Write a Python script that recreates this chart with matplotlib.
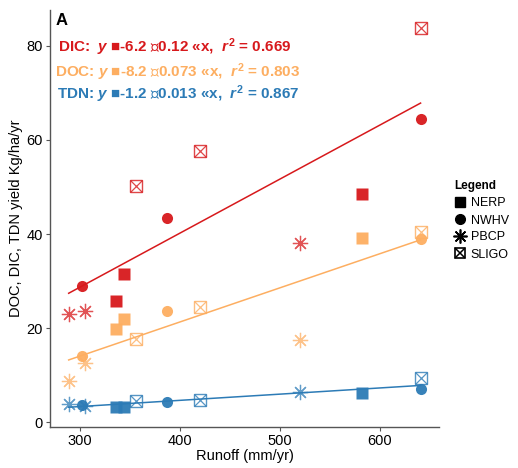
import numpy as np
import matplotlib.pyplot as plt
from matplotlib.lines import Line2D
from matplotlib.legend_handler import HandlerTuple

plt.rcParams['font.family'] = ['Liberation Sans', 'DejaVu Sans']
plt.rcParams['mathtext.fontset'] = 'custom'
plt.rcParams['mathtext.it'] = 'Liberation Sans:italic:bold'
plt.rcParams['mathtext.rm'] = 'Liberation Sans:bold'

# 径流量 (mm/yr)，每个站点三年
sites = ['NERP', 'NWHV', 'PBCP', 'SLIGO']
runoff = {
    'NERP': [336, 344, 582],
    'NWHV': [302, 387, 641],
    'PBCP': [289, 305, 520],
    'SLIGO': [356, 420, 641],
}

# 通量 (Kg/ha/yr)
dic = {
    'NERP': [25.8, 31.5, 48.5],
    'NWHV': [28.9, 43.5, 64.4],
    'PBCP': [23.0, 23.7, 38.1],
    'SLIGO': [50.3, 57.6, 83.7],
}
doc = {
    'NERP': [19.9, 21.9, 39.1],
    'NWHV': [14.2, 23.6, 39.0],
    'PBCP': [8.8, 12.6, 17.5],
    'SLIGO': [17.7, 24.5, 40.4],
}
tdn = {
    'NERP': [3.3, 3.3, 6.2],
    'NWHV': [3.8, 4.3, 7.1],
    'PBCP': [3.9, 3.5, 6.4],
    'SLIGO': [4.5, 4.8, 9.5],
}

var_names = ['DIC', 'DOC', 'TDN']
var_data = [dic, doc, tdn]
var_colors = ['#d7191c', '#fdae61', '#2c7bb6']
eq_text = [
    'DIC:  $\\it{y}$ \u25a0-6.2 \u25ad0.12 \u00abx,  $\\it{r}^{2}$ = 0.669',
    'DOC: $\\it{y}$ \u25a0-8.2 \u25ad0.073 \u00abx,  $\\it{r}^{2}$ = 0.803',
    'TDN: $\\it{y}$ \u25a0-1.2 \u25ad0.013 \u00abx,  $\\it{r}^{2}$ = 0.867',
]


def draw_point(ax, site, x, y, color):
    if site == 'NERP':
        ax.plot(x, y, 's', ms=8.5, color=color, mec='none', alpha=0.95, ls='none')
    elif site == 'NWHV':
        ax.plot(x, y, 'o', ms=8, color=color, mec='none', alpha=0.95, ls='none')
    elif site == 'PBCP':
        ax.plot(x, y, marker=(8, 2, 0), ms=11, color=color, mew=0.9,
                alpha=0.75, ls='none')
    else:
        ax.plot(x, y, 's', ms=9, mfc='none', mec=color, mew=1.0,
                alpha=0.8, ls='none')
        ax.plot(x, y, 'x', ms=9, color=color, mew=0.9,
                alpha=0.8, ls='none')


fig = plt.figure(figsize=(5.18, 4.68), dpi=100)
ax = fig.add_axes([0.0965, 0.0882, 0.7515, 0.8898])

for name, data, color in zip(var_names, var_data, var_colors):
    xs, ys = [], []
    for s in sites:
        for x, y in zip(runoff[s], data[s]):
            draw_point(ax, s, x, y, color)
            xs.append(x)
            ys.append(y)
    # 线性拟合
    k, b = np.polyfit(xs, ys, 1)
    xx = np.array([min(xs), max(xs)])
    ax.plot(xx, b + k * xx, color=color, lw=1.1, zorder=1)

for i, (txt, color) in enumerate(zip(eq_text, var_colors)):
    ypos = [0.912, 0.852, 0.799][i]
    xpos = [0.021, 0.013, 0.018][i]
    ax.text(xpos, ypos, txt, transform=ax.transAxes, color=color,
            fontsize=11, fontweight='bold', va='center', ha='left')

ax.text(0.014, 0.975, 'A', transform=ax.transAxes, fontsize=12,
        fontweight='bold', va='center', ha='left')

ax.set_xlim(270.3, 659.7)
ax.set_ylim(-0.9, 87.5)
ax.set_xticks([300, 400, 500, 600])
ax.set_yticks([0, 20, 40, 60, 80])
ax.spines['top'].set_visible(False)
ax.spines['right'].set_visible(False)
for sp in ['left', 'bottom']:
    ax.spines[sp].set_color('#555555')
    ax.spines[sp].set_linewidth(1.0)
ax.tick_params(length=3, color='#555555', labelsize=10.5, labelcolor='black', pad=2)
ax.set_xlabel('Runoff (mm/yr)', fontsize=10.5, labelpad=1)
ax.set_ylabel('DOC, DIC, TDN yield Kg/ha/yr', fontsize=10.5, labelpad=3)

# 图例
h_nerp = Line2D([], [], marker='s', ms=7, color='black', ls='none')
h_nwhv = Line2D([], [], marker='o', ms=7, color='black', ls='none')
h_pbcp = Line2D([], [], marker=(8, 2, 0), ms=10, color='black', mew=1.2, ls='none')
h_sligo = (Line2D([], [], marker='s', ms=7, mfc='none', mec='black', mew=1.2, ls='none'),
           Line2D([], [], marker='x', ms=7, color='black', mew=1.1, ls='none'))
leg = fig.legend([h_nerp, h_nwhv, h_pbcp, h_sligo], sites,
                 loc='upper left', bbox_to_anchor=(0.868, 0.625),
                 frameon=False, fontsize=9, title='Legend',
                 title_fontproperties={'weight': 'bold', 'size': 8.5},
                 handlelength=0.9, handletextpad=0.4, labelspacing=0.4,
                 borderaxespad=0,
                 handler_map={tuple: HandlerTuple(ndivide=1, pad=0)})
leg._legend_box.align = 'left'

fig.savefig('out.png', dpi=100)
